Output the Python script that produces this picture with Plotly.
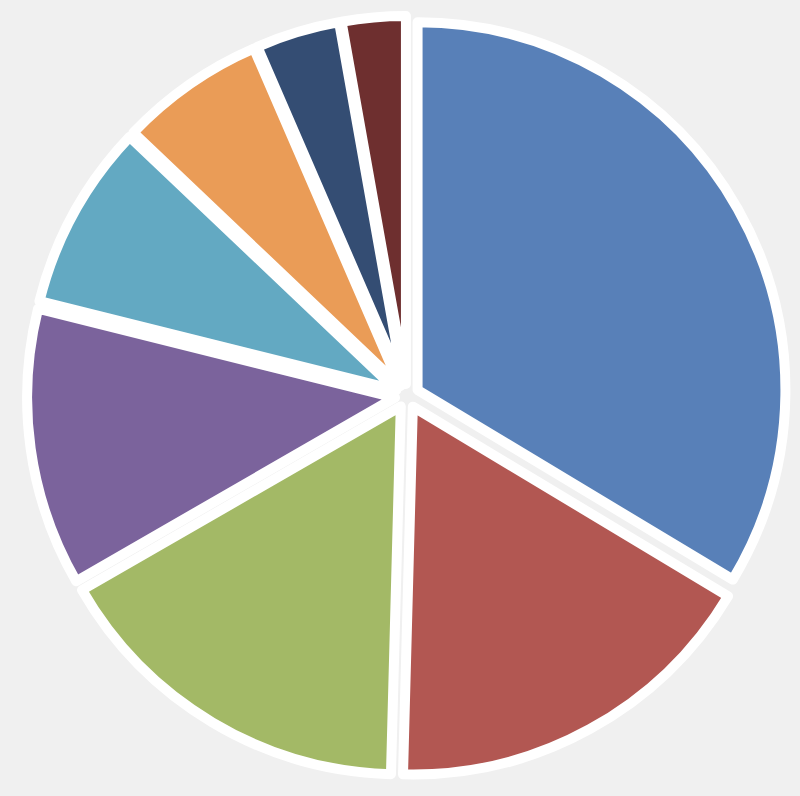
import plotly.graph_objects as go

# slice shares (percent), read clockwise from 12 o'clock
labels = ["A", "B", "C", "D", "E", "F", "G", "H"]
values = [33.6, 16.8, 16.25, 12.2, 8.2, 6.4, 3.7, 2.8]
colors = ["#5880b8", "#b25752", "#a3b966", "#7b639c",
          "#63a9c2", "#ea9c57", "#344d73", "#6e2f2f"]

fig = go.Figure()
fig.add_trace(go.Pie(labels=labels, values=values, sort=False,
                     direction="clockwise", rotation=0,
                     pull=[0.033] * len(values),
                     marker=dict(colors=colors,
                                 line=dict(color="white", width=10)),
                     textinfo="none", hoverinfo="none"))
fig.update_layout(width=800, height=796, showlegend=False,
                  paper_bgcolor="#f0f0f0", plot_bgcolor="#f0f0f0",
                  margin=dict(l=27, r=13, t=16, b=20))
# drop the page's default body margin so the grey fills the window
fig.write_html("out.html", config={"displayModeBar": False},
               post_script="document.body.style.margin='0';"
                           "document.body.style.background='#f0f0f0';")
